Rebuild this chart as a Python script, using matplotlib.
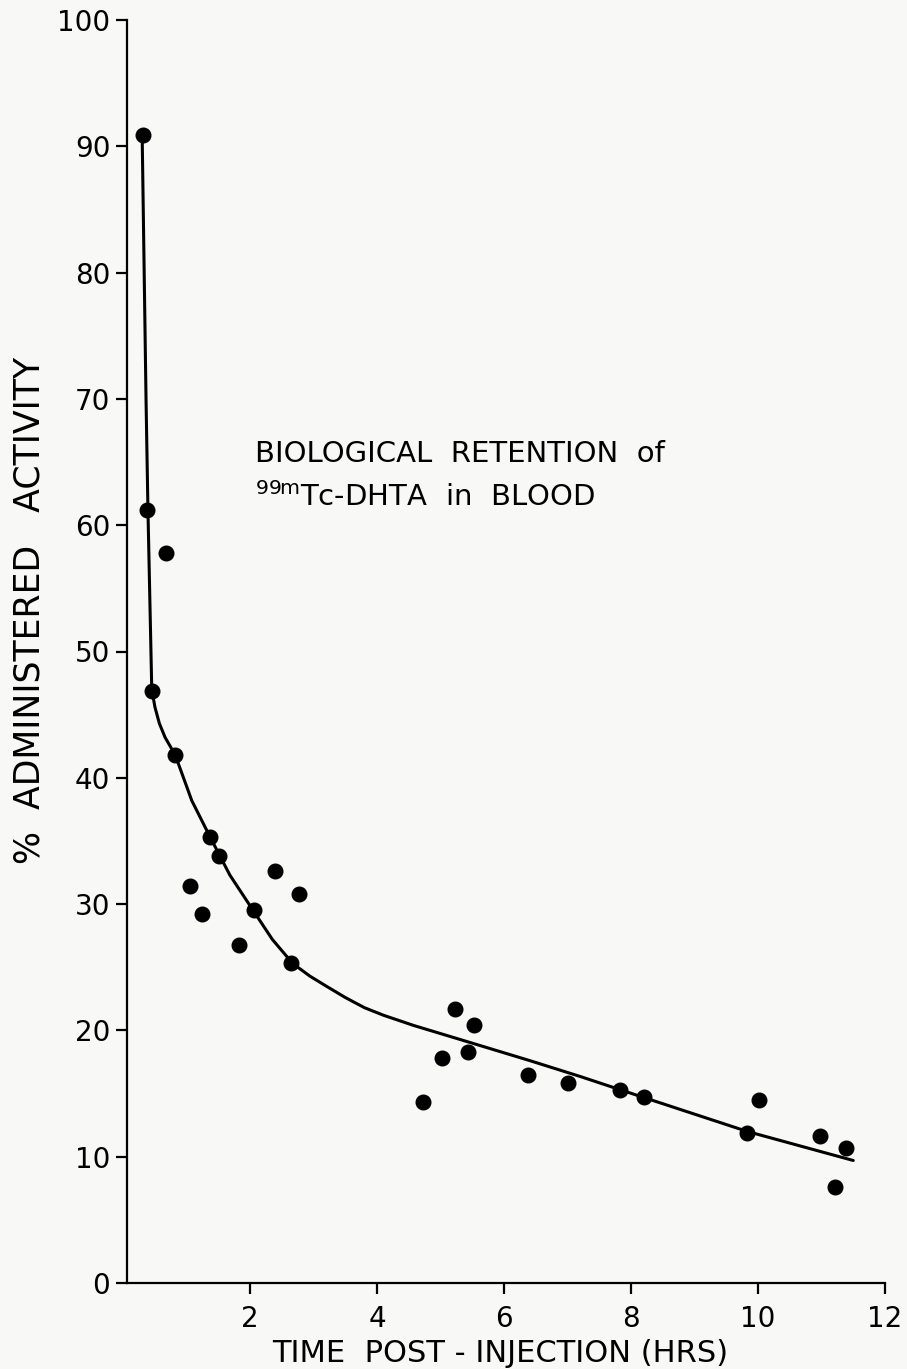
import matplotlib.pyplot as plt

# measured blood retention, % of administered activity
hrs = [0.31, 0.38, 0.67, 0.45, 0.82, 1.37, 1.51, 1.05, 1.24, 2.06, 1.83, 2.39,
       2.77, 2.64, 4.72, 5.02, 5.23, 5.53, 5.43, 6.38, 7.01, 7.83, 8.21, 9.83,
       10.02, 10.98, 11.39, 11.22]
activity = [90.9, 61.2, 57.8, 46.9, 41.8, 35.3, 33.8, 31.4, 29.2, 29.5, 26.8,
            32.6, 30.8, 25.3, 14.3, 17.8, 21.7, 20.4, 18.3, 16.5, 15.8, 15.3,
            14.7, 11.9, 14.5, 11.6, 10.7, 7.6]

# hand-drawn retention curve
curve_hrs = [0.30, 0.36, 0.39, 0.45, 0.50, 0.57, 0.66, 0.82, 1.08, 1.37, 1.68,
             2.06, 2.35, 2.67, 2.94, 3.20, 3.50, 3.80, 4.10, 4.57, 5.36, 6.41,
             7.20, 7.83, 9.83, 11.50]
curve_act = [90.5, 69.9, 61.2, 47.0, 45.6, 44.3, 43.2, 41.8, 38.2, 35.3, 32.3,
             29.4, 27.2, 25.3, 24.3, 23.5, 22.6, 21.8, 21.2, 20.4, 19.2, 17.6,
             16.35, 15.3, 12.0, 9.7]

xticks = [2, 4, 6, 8, 10, 12]
yticks = [0, 10, 20, 30, 40, 50, 60, 70, 80, 90, 100]

plt.rcParams['font.family'] = ['DejaVu Sans']
bg = '#f8f8f6'
W, H = 907, 1369

fig = plt.figure(figsize=(W / 100, H / 100), dpi=100, facecolor=bg)
ax = fig.add_axes([127 / W, 1 - 1283 / H, (885 - 127) / W, (1283 - 20) / H])
ax.set_facecolor(bg)

ax.plot(curve_hrs, curve_act, color='black', lw=2.2,
        solid_capstyle='round', solid_joinstyle='round')
ax.plot(hrs, activity, 'o', color='black', ms=10.5)

ax.set_xlim(0.06, 12)
ax.set_ylim(0, 100)
ax.set_xticks(xticks)
ax.set_yticks(yticks)
ax.set_xticklabels([str(t) for t in xticks])
ax.set_yticklabels([str(t) for t in yticks])
ax.tick_params(direction='out', length=8, width=1.6, labelsize=20, pad=8)
ax.tick_params(axis='y', pad=4)

for s in ['top', 'right']:
    ax.spines[s].set_visible(False)
for s in ['left', 'bottom']:
    ax.spines[s].set_linewidth(1.6)

# axis titles placed in figure pixels
fig.text(500 / W, 1 - 1362 / H, 'TIME  POST - INJECTION (HRS)', fontsize=22,
         ha='center', va='baseline')
fig.text(30 / W, 1 - 610 / H, '%  ADMINISTERED   ACTIVITY', fontsize=25,
         rotation=90, ha='center', va='center')

ax.text(2.08, 65.0, 'BIOLOGICAL  RETENTION  of', fontsize=21)
ax.text(2.08, 61.5, r'$^{\mathregular{99m}}$Tc-DHTA  in  BLOOD', fontsize=21)

fig.savefig('out.png', dpi=100, facecolor=bg)
